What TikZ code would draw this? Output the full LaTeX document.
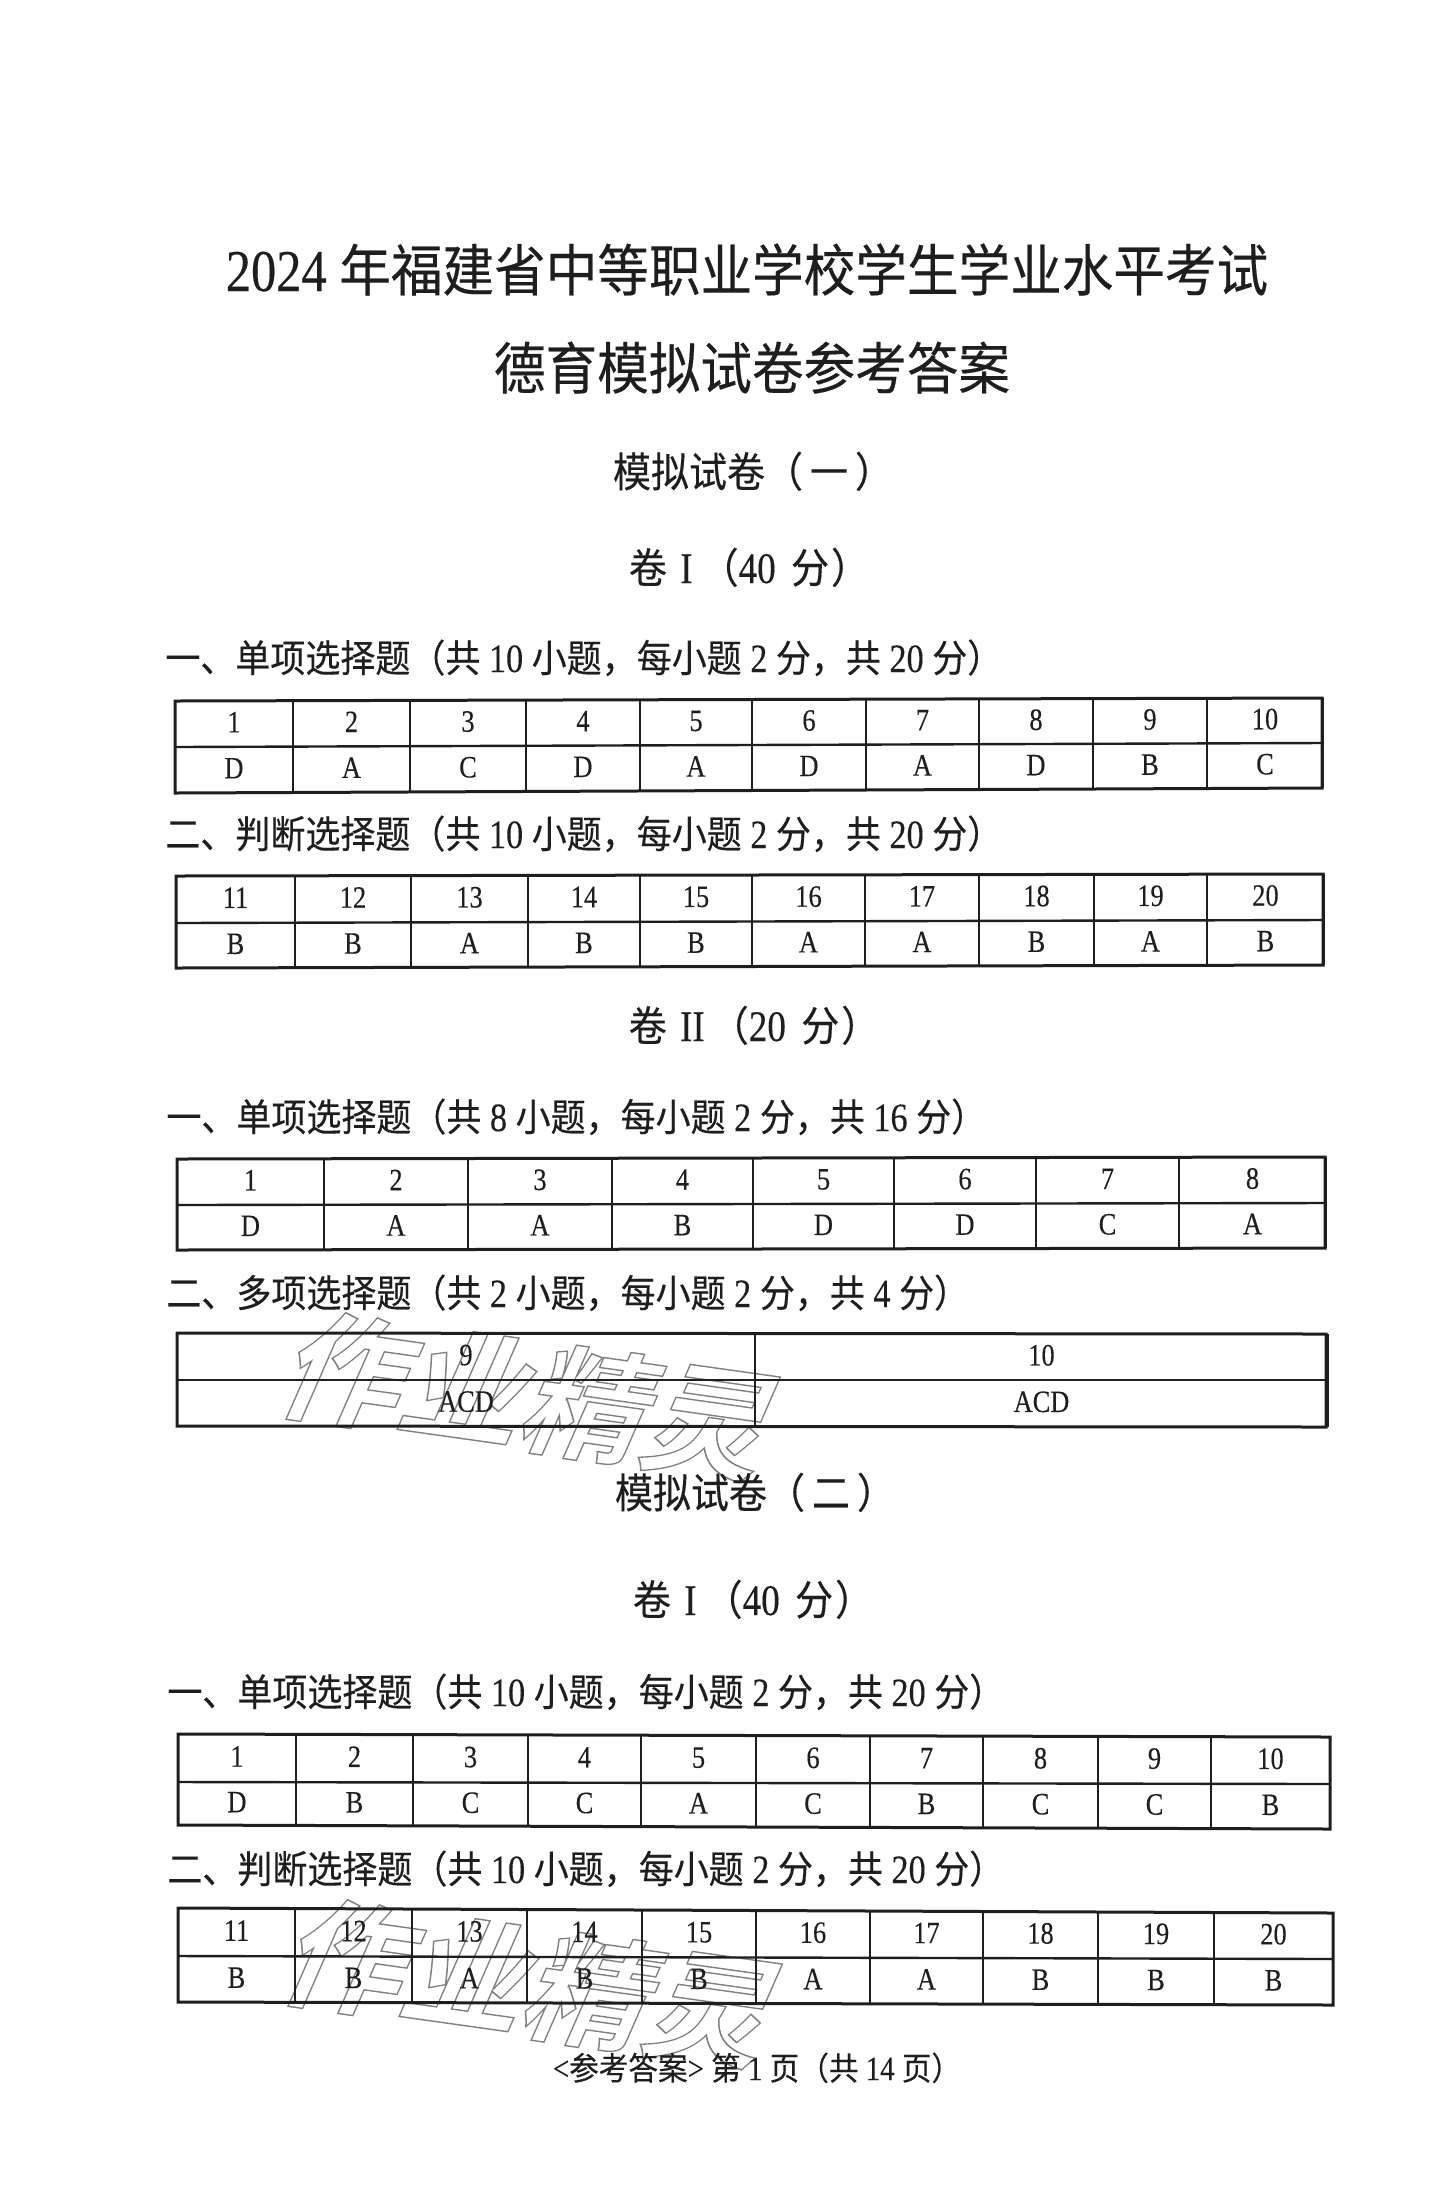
\documentclass[tikz,border=0pt]{standalone}
\usepackage{fontspec}
\setmainfont[Scale=1.15,FakeStretch=.85,FakeBold=.25]{Liberation Serif}
\newfontfamily\cjk[Scale=1.087,FakeStretch=.92,FakeBold=.3]{Noto Sans CJK SC}
\newfontfamily\cjkbold{Noto Sans CJK SC Bold}
\newcommand\C[1]{{\cjk #1}}
\definecolor{ink}{HTML}{1E1E1E}
\tikzset{
  title/.style={inner sep=0pt,text=ink,font=\fontsize{25.8}{26}\selectfont,text height=.8em,text depth=.1em},
  sub/.style={inner sep=0pt,text=ink,font=\fontsize{19}{19}\selectfont,text height=.8em,text depth=.1em},
  head/.style={inner sep=0pt,anchor=west,text=ink,font=\fontsize{17.5}{17}\selectfont,text height=.8em,text depth=.1em},
  cell/.style={inner sep=0pt,text=ink,font=\fontsize{13.5}{14}\selectfont,text height=.66em,text depth=0pt},
  foot/.style={inner sep=0pt,text=ink,font=\fontsize{14.8}{14}\selectfont,text height=.8em,text depth=.1em},
  outer/.style={draw=ink,line width=1.5pt},
  inner/.style={draw=ink,line width=.9pt},
  mark text/.style={inner sep=0pt,font=\cjkbold\fontsize{61}{61}\selectfont,transform shape}
}
% name, x array, top L/R, mid L/R, width, bottom L/R, cells
\newcommand\anstable[9]{%
  \foreach \txt/\ans [count=\k from 0] in {#9} {
    \pgfmathsetmacro\xa{{#2}[\k]}
    \pgfmathsetmacro\xb{{#2}[\k+1]}
    \pgfmathsetmacro\xf{{#2}[0]}
    \pgfmathsetmacro\xc{(\xa+\xb)/2}
    \pgfmathsetmacro\fa{(\xc-\xf)/(#6)}
    \pgfmathsetmacro\fb{(\xb-\xf)/(#6)}
    \pgfmathsetmacro\ytc{#3+(#4-#3)*\fa}
    \pgfmathsetmacro\ymc{#5[0]+(#5[1]-#5[0])*\fa}
    \pgfmathsetmacro\ybc{#7+(#8-#7)*\fa}
    \node[cell] (#1n\k) at (\xc,{(\ytc+\ymc)/2+1}) {\txt};
    \node[cell] (#1a\k) at (\xc,{(\ymc+\ybc)/2+1}) {\ans};
    \pgfmathsetmacro\ytb{#3+(#4-#3)*\fb}
    \pgfmathsetmacro\ybb{#7+(#8-#7)*\fb}
    \draw[inner] (\xb,\ytb) -- (\xb,\ybb);
  }
  \pgfmathsetmacro\xf{{#2}[0]}
  \pgfmathsetmacro\xl{\xf+#6}
  \pgfmathsetmacro\yml{#5[0]}
  \pgfmathsetmacro\ymr{#5[1]}
  \draw[inner,line width=1.2pt] (\xf,\yml) -- (\xl,\ymr);
  \draw[outer,line join=miter] (\xf,#3) -- (\xl,#4) -- (\xl,#8) -- (\xf,#7) -- cycle;
}
\newcommand\paperA{\C{卷}\hspace{2pt} I\hspace{4pt}\C{（}40\hspace{3pt} \C{分}\hspace{1pt}\C{）}}
\newcommand\paperB{\C{卷}\hspace{2pt} II\hspace{3pt}\C{（}20\hspace{3pt} \C{分}\hspace{1pt}\C{）}}
\begin{document}
\begin{tikzpicture}[x=.5pt,y=-.5pt]
\useasboundingbox (0,0) rectangle (1437,2197);

\begin{scope}[shift={(533,1397)},rotate=-8,xslant=.28]
  \node[mark text] (w1) at (0,0) {\special{pdf:code 1 Tr 0.7 w 0.5 G}作业精灵};
\end{scope}
\begin{scope}[shift={(535,1984)},rotate=-8,xslant=.28]
  \node[mark text] (w2) at (0,0) {\special{pdf:code 1 Tr 0.7 w 0.5 G}作业精灵};
\end{scope}

\node[title] (t1) at (747,283) {2024 \C{年福建省中等职业学校学生学业水平考试}};
\node[title] (t2) at (752,381) {\C{德育模拟试卷参考答案}};
\node[sub] (s1) at (753,479) {\C{模拟试卷（\hspace{3.5pt}一\hspace{3.5pt}）}};
\node[sub] (v1) at (749,575) {\paperA};

\node[head] (h1) at (165,664) {\C{一、单项选择题（共} 10 \C{小题，每小题} 2 \C{分，共} 20 \C{分）}};
\anstable{a}{175,293,410,526,640,752,866,979,1093,1207,1323}{701}{698}{{747,743}}{1147}{793}{788}
  {1/D,2/A,3/C,4/D,5/A,6/D,7/A,8/D,9/B,10/C}

\node[head] (h2) at (165,840) {\C{二、判断选择题（共} 10 \C{小题，每小题} 2 \C{分，共} 20 \C{分）}};
\anstable{b}{176,295,411,528,640,752,865,979,1094,1207,1324}{876}{874}{{923,920}}{1147}{968}{965}
  {11/B,12/B,13/A,14/B,15/B,16/A,17/A,18/B,19/A,20/B}

\node[sub] (v2) at (754,1033) {\paperB};

\node[head] (h3) at (166,1123) {\C{一、单项选择题（共} 8 \C{小题，每小题} 2 \C{分，共} 16 \C{分）}};
\anstable{c}{177,324,468,612,753,894,1036,1179,1326}{1159}{1157}{{1205,1203}}{1148}{1250}{1248}
  {1/D,2/A,3/A,4/B,5/D,6/D,7/C,8/A}

\node[head] (h4) at (166,1299) {\C{二、多项选择题（共} 2 \C{小题，每小题} 2 \C{分，共} 4 \C{分）}};
\anstable{d}{177,755,1328}{1333}{1334}{{1380,1380}}{1149}{1426}{1427}
  {9/ACD,10/ACD}

\node[sub] (s2) at (755,1500) {\C{模拟试卷（\hspace{3.5pt}二\hspace{3.5pt}）}};
\node[sub] (v3) at (753,1607) {\paperA};

\node[head] (h5) at (167,1698) {\C{一、单项选择题（共} 10 \C{小题，每小题} 2 \C{分，共} 20 \C{分）}};
\anstable{e}{178,296,413,528,641,756,870,983,1098,1211,1330}{1734}{1737}{{1782,1784}}{1152}{1825}{1829}
  {1/D,2/B,3/C,4/C,5/A,6/C,7/B,8/C,9/C,10/B}

\node[head] (h6) at (167,1875) {\C{二、判断选择题（共} 10 \C{小题，每小题} 2 \C{分，共} 20 \C{分）}};
\anstable{f}{178,295,412,527,642,756,870,983,1098,1214,1333}{1908}{1913}{{1956,1959}}{1155}{2002}{2005}
  {11/B,12/B,13/A,14/B,15/B,16/A,17/A,18/B,19/B,20/B}

\node[foot] (ft) at (757,2072) {<\C{参考答案}> \C{第} 1 \C{页（共} 14 \C{页）}};
\end{tikzpicture}
\end{document}
